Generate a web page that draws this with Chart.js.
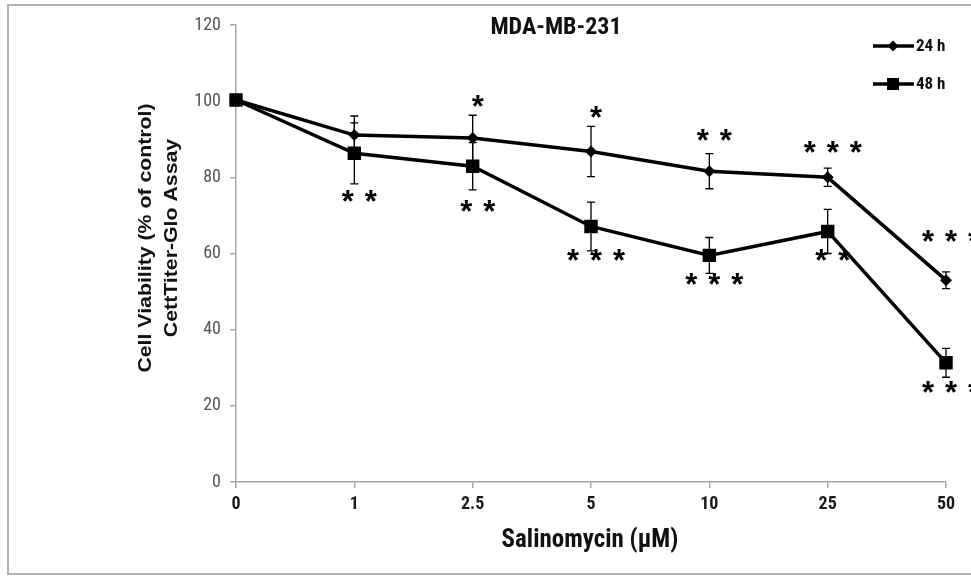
<!DOCTYPE html>
<html><head><meta charset="utf-8">
<script src="https://cdn.jsdelivr.net/npm/chart.js@4.4.1/dist/chart.umd.min.js"></script>
<style>
html,body{margin:0;padding:0;background:#fff;overflow:hidden}
#wrap{position:relative;width:971px;height:576px;overflow:hidden}
#frame{position:absolute;left:7px;top:4px;width:1000px;height:571px;border:2px solid #b4b4b4;box-sizing:border-box;pointer-events:none}
canvas{position:absolute;left:0;top:0}
</style></head>
<body><div id="wrap"><canvas id="c" width="971" height="576"></canvas><div id="frame"></div></div>
<script>
const categories = ['0', '1', '2.5', '5', '10', '25', '50'];
const viability24h = [100.3, 91.1, 90.3, 86.8, 81.6, 80.0, 53.0];
const viability48h = [100.3, 86.3, 82.9, 67.1, 59.5, 65.8, 31.3];
const sd24h = [0, 5, 6, 6.6, 4.6, 2.4, 2.2];
const sd48h = [0, 8, 6.2, 6.4, 4.7, 5.8, 3.8];
const stars24h = ['', '', '*', '*', '* *', '* * *', '* * *'];
const starsY24h = [null, null, 100, 97.1, 91, 87.9, 64.5];
const stars48h = ['', '* *', '* *', '* * *', '* * *', '* *', '* * *'];
const starsY48h = [null, 75, 72.4, 59.7, 53.2, 59.5, 25];
const yTicks = [0, 20, 40, 60, 80, 100, 120];
const chartTitle = 'MDA-MB-231';
const xTitle = 'Salinomycin (\u00b5M)';
const yTitleLines = ['Cell Viability (% of control)', 'CettTiter-Glo Assay'];

const SANS = '"Liberation Sans", Arial, sans-serif';
const NARROW = '"Liberation Sans Narrow", "Roboto Condensed", "Liberation Sans", Arial, sans-serif';

const errorBars = {
  id: 'errorBars',
  beforeDatasetsDraw(chart) {
    const ctx = chart.ctx, y = chart.scales.y;
    chart.data.datasets.forEach((ds, di) => {
      const meta = chart.getDatasetMeta(di);
      ctx.save();
      ctx.strokeStyle = '#000';
      ctx.lineWidth = 1.3;
      meta.data.forEach((pt, i) => {
        const e = ds.errors[i];
        if (!e) return;
        const v = ds.data[i];
        const t = y.getPixelForValue(v + e), b = y.getPixelForValue(v - e);
        ctx.beginPath();
        ctx.moveTo(pt.x, t); ctx.lineTo(pt.x, b);
        ctx.moveTo(pt.x - 4, t); ctx.lineTo(pt.x + 4, t);
        ctx.moveTo(pt.x - 4, b); ctx.lineTo(pt.x + 4, b);
        ctx.stroke();
      });
      ctx.restore();
    });
  }
};

const starMarks = {
  id: 'starMarks',
  afterDatasetsDraw(chart) {
    const ctx = chart.ctx, y = chart.scales.y;
    ctx.save();
    ctx.fillStyle = '#000';
    ctx.font = 'bold 31px ' + SANS;
    ctx.textAlign = 'center';
    ctx.textBaseline = 'alphabetic';
    const m = ctx.measureText('*');
    const vOff = (m.actualBoundingBoxAscent - m.actualBoundingBoxDescent) / 2;
    chart.data.datasets.forEach((ds, di) => {
      const meta = chart.getDatasetMeta(di);
      meta.data.forEach((pt, i) => {
        const s = ds.stars[i];
        if (!s) return;
        const n = s.split(' ').length;
        const cy = y.getPixelForValue(ds.starsY[i]);
        const cx = pt.x + 5;
        const gap = 23;
        for (let k = 0; k < n; k++) {
          const x = cx + (k - (n - 1) / 2) * gap;
          ctx.fillText('*', x, cy + vOff);
        }
      });
    });
    ctx.restore();
  }
};

const decorations = {
  id: 'decorations',
  afterDraw(chart) {
    const ctx = chart.ctx;
    ctx.save();
    ctx.fillStyle = '#111';
    ctx.textAlign = 'center';
    ctx.textBaseline = 'middle';
    ctx.font = 'bold 24px ' + NARROW;
    ctx.fillText(chartTitle, 556, 28);
    ctx.font = 'bold 25px ' + NARROW;
    ctx.fillText(xTitle, 590, 541);
    // y title
    ctx.font = 'bold 19px ' + SANS;
    const xs = [146, 172];
    yTitleLines.forEach((line, k) => {
      ctx.save();
      ctx.translate(xs[k], 238);
      ctx.rotate(-Math.PI / 2);
      ctx.scale(1.12, 1);
      ctx.fillText(line, 0, 0);
      ctx.restore();
    });
    // legend
    const ys = [46, 84];
    chart.data.datasets.forEach((ds, di) => {
      const yy = ys[di];
      ctx.strokeStyle = '#000';
      ctx.lineWidth = 3.5;
      ctx.beginPath();
      ctx.moveTo(873, yy); ctx.lineTo(914, yy);
      ctx.stroke();
      ctx.fillStyle = '#000';
      Chart.helpers.drawPoint(ctx, {pointStyle: ds.pointStyle, radius: di === 0 ? 5.5 : 8.5, borderWidth: 0, rotation: 0}, 893, yy);
      ctx.fillStyle = '#111';
      ctx.textAlign = 'left';
      ctx.font = 'bold 17px ' + NARROW;
      ctx.fillText(ds.label, 916, yy + 1);
    });
    ctx.restore();
  }
};

const axisGray = '#a6a6a6';
new Chart(document.getElementById('c'), {
  type: 'line',
  data: {
    labels: categories,
    datasets: [
      {label: '24 h', data: viability24h, errors: sd24h, stars: stars24h, starsY: starsY24h,
       borderColor: '#000', backgroundColor: '#000', borderWidth: 3.5, tension: 0,
       pointStyle: 'rectRot', pointRadius: 6, pointBorderWidth: 0, pointBackgroundColor: '#000'},
      {label: '48 h', data: viability48h, errors: sd48h, stars: stars48h, starsY: starsY48h,
       borderColor: '#000', backgroundColor: '#000', borderWidth: 3.5, tension: 0,
       pointStyle: 'rect', pointRadius: 9.5, pointBorderWidth: 0, pointBackgroundColor: '#000'}
    ]
  },
  options: {
    responsive: false, animation: false, devicePixelRatio: 1,
    layout: {padding: {top: 25, right: 25, left: 0, bottom: 0}},
    plugins: {legend: {display: false}, tooltip: {enabled: false}, title: {display: false}},
    scales: {
      x: {
        type: 'category', offset: false,
        grid: {display: true, drawOnChartArea: false, drawTicks: true, tickLength: 6, color: axisGray, lineWidth: 1.5},
        border: {display: true, color: axisGray, width: 1.5},
        ticks: {padding: 6, color: '#1a1a1a', font: {family: NARROW, size: 18, weight: 'bold'}, maxRotation: 0, autoSkip: false},
        afterFit(s) { s.height = 94; }
      },
      y: {
        min: 0, max: 120,
        afterBuildTicks(s) { s.ticks = yTicks.map(v => ({value: v})); },
        grid: {display: true, drawOnChartArea: false, drawTicks: true, tickLength: 6, color: axisGray, lineWidth: 1.5},
        border: {display: true, color: axisGray, width: 1.5},
        ticks: {padding: 9, color: '#555555', font: {family: NARROW, size: 18}},
        afterFit(s) { s.width = 236; }
      }
    }
  },
  plugins: [errorBars, starMarks, decorations]
});
</script>
</body></html>
